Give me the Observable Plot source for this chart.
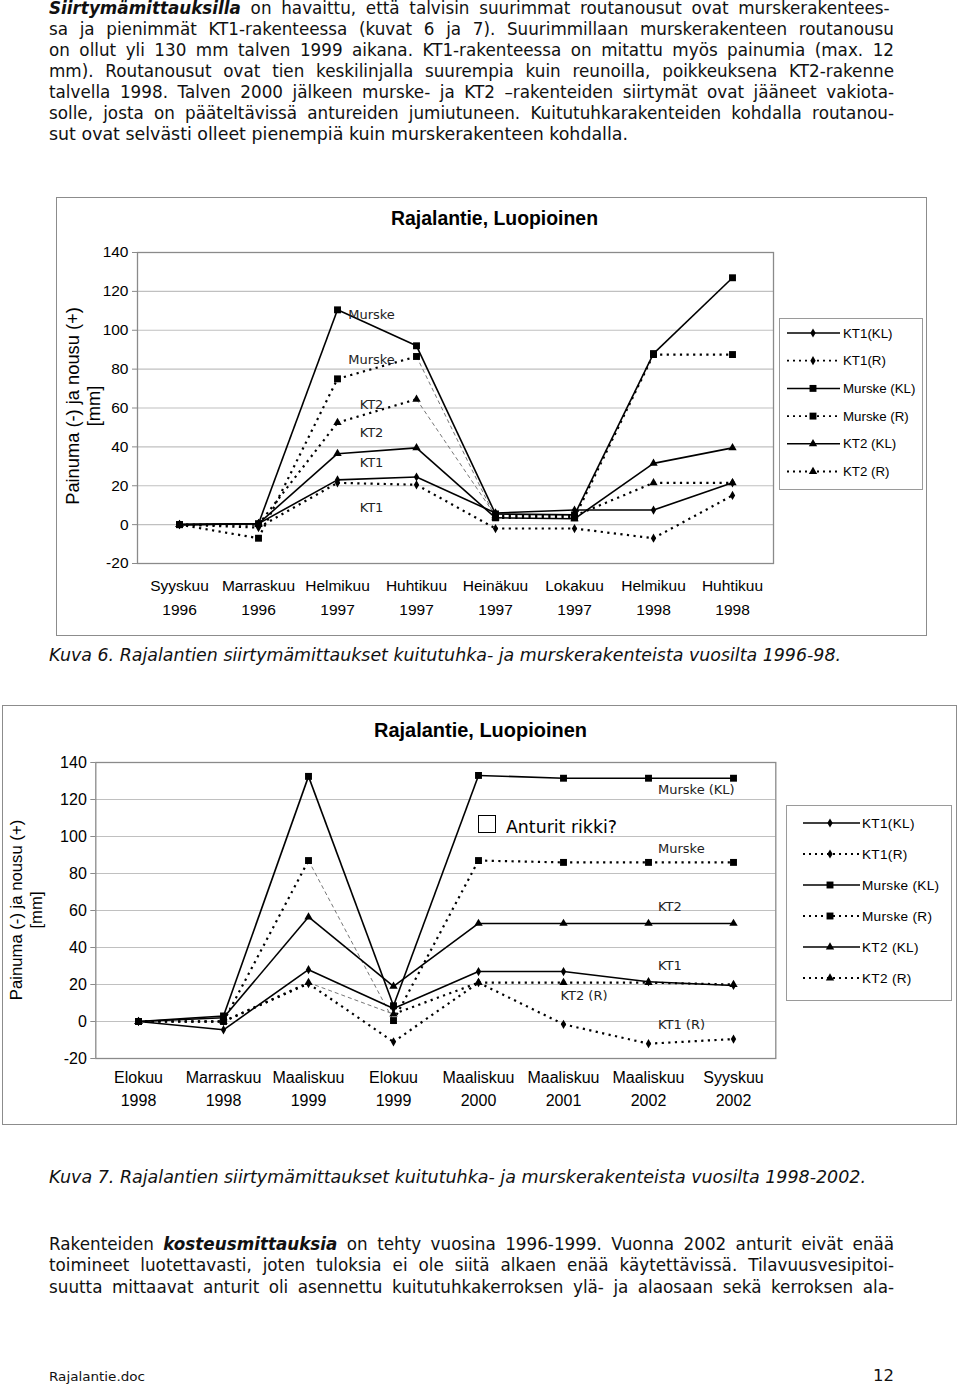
<!DOCTYPE html>
<html><head><meta charset="utf-8">
<script src="https://cdn.jsdelivr.net/npm/d3@7"></script>
<script src="https://cdn.jsdelivr.net/npm/@observablehq/plot@0.6"></script>
<style>
html,body{margin:0;padding:0;background:#fff;}
body{position:relative;width:960px;height:1385px;overflow:hidden;}
.frame{position:absolute;border:1.5px solid #8c8c8c;box-sizing:border-box;background:#fff;}
.abs{position:absolute;}
</style></head><body>
<script>
// ---------------- DATA ----------------
const seriesNames = ["KT1(KL)", "KT1(R)", "Murske (KL)", "Murske (R)", "KT2 (KL)", "KT2 (R)"];
const seriesSymbols = ["diamond", "diamond", "square", "square", "triangle", "triangle"];
const seriesDotted = [false, true, false, true, false, true];
const yTicks = [-20, 0, 20, 40, 60, 80, 100, 120, 140];

// Kuva 6 (1996-98)
const months1 = ["Syyskuu", "Marraskuu", "Helmikuu", "Huhtikuu", "Heinäkuu", "Lokakuu", "Helmikuu", "Huhtikuu"];
const years1 = ["1996", "1996", "1997", "1997", "1997", "1997", "1998", "1998"];
const kt1KL1 = [0, 0.5, 23, 24.5, 6, 7.5, 7.5, 21.5];
const kt1R1 = [0, -1.5, 21.5, 20.5, -2, -2, -7, 15];
const murKL1 = [0, 0.5, 110.5, 92, 5.5, 5, 88, 127];
const murR1 = [0, -7, 75, 86.5, 3.5, 3.5, 87.5, 87.5];
const kt2KL1 = [0, 0.5, 36.5, 39.5, 3.5, 3, 31.5, 39.5];
const kt2R1 = [0, 0, 52.5, 64.5, 4.5, 4.5, 21.5, 21.5];
const thin1 = [["Murske (R)", 3], ["KT2 (R)", 3]];
const labelText1 = ["Murske", "Murske", "KT2", "KT2", "KT1", "KT1"];
const labelValue1 = [108, 85, 61.5, 47, 31.6, 8.6];
const labelCat1 = 2;

// Kuva 7 (1998-2002)
const months2 = ["Elokuu", "Marraskuu", "Maaliskuu", "Elokuu", "Maaliskuu", "Maaliskuu", "Maaliskuu", "Syyskuu"];
const years2 = ["1998", "1998", "1999", "1999", "2000", "2001", "2002", "2002"];
const kt1KL2 = [0, -4.5, 28, 7, 27, 27, 21.5, 19.5];
const kt1R2 = [0, 0, 20.5, -11, 21, -1.5, -12, -9.5];
const murKL2 = [0, 3, 132.5, 8.5, 133, 131.5, 131.5, 131.5];
const murR2 = [0, 0, 87, 0.5, 87, 86, 86, 86];
const kt2KL2 = [0, 2, 56.5, 19, 53, 53, 53, 53];
const kt2R2 = [0, 0, 21, 4, 21, 21, 21, 20];
const thin2 = [["Murske (R)", 2], ["KT2 (R)", 2]];
const labelText2 = ["Murske (KL)", "Murske", "KT2", "KT1", "KT1 (R)"];
const labelValue2 = [125, 93.5, 61.8, 30.3, -1.6];
const labelCat2 = 6;
const labelText2b = ["KT2 (R)"];
const labelValue2b = [14];
const labelCat2b = 5;

// ---------------- HELPERS ----------------
const page = document.body;
function placeText(html, o) {
  const d = document.createElement("div");
  d.innerHTML = html;
  const fs = o.fs;
  d.style.cssText = `position:absolute;white-space:nowrap;left:${o.x || 0}px;top:${o.baseline - 0.846 * fs}px;font-size:${fs}px;line-height:${fs}px;font-family:${o.family || '"DejaVu Sans", Verdana, sans-serif'};color:${o.color || "#111"};${o.style || ""}`;
  page.appendChild(d);
  if (o.width) {
    const w = d.getBoundingClientRect().width;
    if (o.mode === "justify" && w < o.width) {
      const n = (d.textContent.match(/ /g) || []).length;
      d.style.wordSpacing = ((o.width - w) / n) + "px";
    } else {
      d.style.transformOrigin = "0 0";
      d.style.transform = `scaleX(${o.width / w})`;
    }
  }
  if (o.right !== undefined) {
    const w = d.getBoundingClientRect().width;
    d.style.left = (o.right - w) + "px";
  }
  return d;
}
function placeRot(text, cx, cy, fs) {
  const d = document.createElement("div");
  d.textContent = text;
  d.style.cssText = `position:absolute;white-space:nowrap;left:${cx}px;top:${cy}px;font-size:${fs}px;line-height:${fs * 1.1}px;font-family:"Liberation Sans",Arial,sans-serif;color:#000;transform:translate(-50%,-50%) rotate(-90deg);`;
  page.appendChild(d);
}
function frameBox(l, t, w, h) {
  const d = document.createElement("div");
  d.className = "frame";
  d.style.left = l + "px"; d.style.top = t + "px"; d.style.width = w + "px"; d.style.height = h + "px";
  page.appendChild(d);
}
const symbolMap = {diamond: d3.symbolDiamond, square: d3.symbolSquare, triangle: d3.symbolTriangle};
const symbolR = {diamond: 2.8, square: 3.9, triangle: 3.1};

function makeChart(c) {
  const cats = c.months.map((m, i) => m + " " + c.years[i]);
  const pts = [], segs = [];
  seriesNames.forEach((s, si) => {
    const vals = c.values[si];
    vals.forEach((v, i) => pts.push({s, si, x: cats[i], y: v}));
    for (let i = 0; i < vals.length - 1; i++) {
      segs.push({s, si, x1: cats[i], y1: vals[i], x2: cats[i + 1], y2: vals[i + 1],
        thin: c.thin.some(([n, k]) => n === s && k === i), dotted: seriesDotted[si]});
    }
  });
  const catLabels = cats.map((cc, i) => ({c: cc, m: c.months[i], yr: c.years[i]}));
  const L = {x1: "x1", y1: "y1", x2: "x2", y2: "y2"};
  const dots = ["diamond", "square", "triangle"].map(sym =>
    Plot.dot(pts.filter(d => seriesSymbols[d.si] === sym), {x: "x", y: "y", symbol: sym, fill: "#000", r: symbolR[sym]}));
  const labelMarks = c.labels.map(lb => Plot.text(
    lb.text.map((t, i) => ({t, v: lb.value[i], x: cats[lb.cat]})),
    {x: "x", y: "v", text: "t", dx: lb.dx, textAnchor: lb.anchor, fontFamily: '"DejaVu Sans", Verdana, sans-serif', fontSize: 13, fill: "#222"}));
  const svg = Plot.plot({
    width: c.width, height: c.height,
    marginLeft: c.ml, marginRight: c.mr, marginTop: c.mt, marginBottom: c.mb,
    style: {fontFamily: '"Liberation Sans", Arial, sans-serif', fontSize: c.tickFont + "px", color: "#000", background: "transparent", overflow: "visible"},
    x: {type: "point", domain: cats, padding: 0.5, axis: null},
    y: {domain: [-20, 140], axis: null},
    marks: [
      Plot.ruleY(yTicks.filter(t => t > -20 && t < 140), {stroke: "#c0c0c0", strokeWidth: 1.2}),
      Plot.frame({stroke: "#8a8a8a", strokeWidth: 1.3}),
      Plot.axisY({ticks: yTicks, tickSize: 5, tickPadding: 4, stroke: "#8a8a8a", fontSize: c.tickFont, tickFormat: d => String(d), label: null}),
      Plot.text(catLabels, {x: "c", text: "m", frameAnchor: "bottom", dy: c.dy1, fontSize: c.xFont}),
      Plot.text(catLabels, {x: "c", text: "yr", frameAnchor: "bottom", dy: c.dy2, fontSize: c.xFont}),
      Plot.link(segs.filter(d => d.thin), {...L, stroke: "#666", strokeWidth: 0.9, strokeDasharray: "4,3"}),
      Plot.link(segs.filter(d => !d.thin && d.dotted), {...L, stroke: "#000", strokeWidth: 2.2, strokeDasharray: "2.2,4.4"}),
      Plot.link(segs.filter(d => !d.thin && !d.dotted), {...L, stroke: "#000", strokeWidth: 1.6}),
      ...dots,
      ...labelMarks
    ]
  });
  svg.style.position = "absolute";
  svg.style.left = c.left + "px";
  svg.style.top = c.top + "px";
  page.appendChild(svg);
}

function makeLegend(o) {
  const svg = d3.create("svg").attr("width", o.w).attr("height", o.h)
    .style("position", "absolute").style("left", o.left + "px").style("top", o.top + "px");
  svg.append("rect").attr("x", 0.5).attr("y", 0.5).attr("width", o.w - 1).attr("height", o.h - 1)
    .attr("fill", "#fff").attr("stroke", "#9a9a9a").attr("stroke-width", 1);
  seriesNames.forEach((s, i) => {
    const y = o.y0 + o.dy * i;
    const g = svg.append("g");
    g.append("line").attr("x1", o.l0).attr("x2", o.l1).attr("y1", y).attr("y2", y)
      .attr("stroke", "#000").attr("stroke-width", seriesDotted[i] ? 1.8 : 1.5)
      .attr("stroke-dasharray", seriesDotted[i] ? "2,4" : null);
    const sym = seriesSymbols[i];
    g.append("path").attr("d", d3.symbol(symbolMap[sym], Math.PI * symbolR[sym] ** 2)())
      .attr("transform", `translate(${o.mx},${y})`).attr("fill", "#000");
    g.append("text").attr("x", o.tx).attr("y", y).attr("dy", "0.35em").text(s)
      .attr("font-family", '"Liberation Sans", Arial, sans-serif').attr("font-size", o.fs)
      .attr("letter-spacing", o.ls || 0);
  });
  page.appendChild(svg.node());
}

// ---------------- BODY TEXT ----------------
const bodyFs = 16.8;
const para1 = [
  "<b><i>Siirtymämittauksilla</i></b>  on havaittu, että talvisin suurimmat routanousut ovat murskerakentees-",
  "sa ja pienimmät KT1-rakenteessa (kuvat 6 ja 7). Suurimmillaan murskerakenteen routanousu",
  "on ollut yli 130 mm talven 1999 aikana. KT1-rakenteessa on mitattu myös painumia (max. 12",
  "mm). Routanousut ovat tien keskilinjalla suurempia kuin reunoilla, poikkeuksena KT2-rakenne",
  "talvella 1998. Talven 2000 jälkeen murske- ja KT2 –rakenteiden siirtymät ovat jääneet vakiota-",
  "solle, josta on pääteltävissä antureiden jumiutuneen. Kuitutuhkarakenteiden kohdalla routanou-",
  "sut ovat selvästi olleet pienempiä kuin murskerakenteen kohdalla."
];
para1.forEach((h, i) => {
  const last = i === para1.length - 1;
  placeText(h, {x: 49, baseline: 14.5 + 21.0 * i, fs: bodyFs, width: last ? 579 : 845, mode: last ? "scale" : "justify"});
});
const para2 = [
  "Rakenteiden <b><i>kosteusmittauksia</i></b> on tehty vuosina 1996-1999. Vuonna 2002 anturit eivät enää",
  "toimineet luotettavasti, joten tuloksia ei ole siitä alkaen enää käytettävissä. Tilavuusvesipitoi-",
  "suutta mittaavat anturit oli asennettu kuitutuhkakerroksen ylä- ja alaosaan sekä kerroksen ala-"
];
para2.forEach((h, i) => placeText(h, {x: 49, baseline: 1250 + 21.7 * i, fs: bodyFs, width: 845, mode: "justify"}));

// ---------------- CHART 1 ----------------
frameBox(56, 197, 871, 439);
placeText("Rajalantie, Luopioinen", {x: 390.5, baseline: 224.5, fs: 20, family: '"Liberation Sans", Arial, sans-serif', style: "font-weight:bold;", color: "#000", width: 207});
placeRot("Painuma (-) ja nousu (+)", 73, 406, 18.3);
placeRot("[mm]", 94, 406, 18.3);
makeChart({
  months: months1, years: years1,
  values: [kt1KL1, kt1R1, murKL1, murR1, kt2KL1, kt2R1],
  thin: thin1,
  labels: [{text: labelText1, value: labelValue1, cat: labelCat1, dx: 34, anchor: "middle"}],
  left: 60, top: 240, width: 721, height: 393, ml: 77, mr: 8, mt: 12, mb: 70,
  tickFont: 15.5, xFont: 15.5, dy1: 27, dy2: 51
});
makeLegend({left: 779, top: 318, w: 144, h: 172, y0: 15, dy: 27.7, l0: 8, l1: 61, mx: 34, tx: 64, fs: 13.3});
placeText("<i>Kuva 6. Rajalantien siirtymämittaukset kuitutuhka- ja murskerakenteista vuosilta 1996-98.</i>", {x: 49, baseline: 661, fs: bodyFs, width: 792});

// ---------------- CHART 2 ----------------
frameBox(2, 705, 955, 420);
placeText("Rajalantie, Luopioinen", {x: 374, baseline: 736.5, fs: 20, family: '"Liberation Sans", Arial, sans-serif', style: "font-weight:bold;", color: "#000", width: 213});
placeRot("Painuma (-) ja nousu (+)", 17, 910, 16.7);
placeRot("[mm]", 37, 910, 16.7);
makeChart({
  months: months2, years: years2,
  values: [kt1KL2, kt1R2, murKL2, murR2, kt2KL2, kt2R2],
  thin: thin2,
  labels: [
    {text: labelText2, value: labelValue2, cat: labelCat2, dx: 9.5, anchor: "start"},
    {text: labelText2b, value: labelValue2b, cat: labelCat2b, dx: -3, anchor: "start"}
  ],
  left: 10, top: 750, width: 770, height: 378, ml: 85.3, mr: 4.7, mt: 12, mb: 70,
  tickFont: 16, xFont: 16, dy1: 24, dy2: 47
});
makeLegend({left: 786, top: 805, w: 166, h: 196, y0: 18, dy: 31, l0: 17, l1: 74, mx: 44, tx: 76, fs: 13.6, ls: 0.3});
// annotation box "Anturit rikki?"
(() => {
  const b = document.createElement("div");
  b.style.cssText = "position:absolute;left:478px;top:815px;width:18px;height:18px;border:1.5px solid #000;box-sizing:border-box;background:#fff;";
  page.appendChild(b);
  placeText("Anturit rikki?", {x: 506, baseline: 833, fs: 17, color: "#000", width: 111});
})();
placeText("<i>Kuva 7. Rajalantien siirtymämittaukset kuitutuhka- ja murskerakenteista vuosilta 1998-2002.</i>", {x: 49, baseline: 1183, fs: bodyFs, width: 817});

// ---------------- FOOTER ----------------
placeText("Rajalantie.doc", {x: 49, baseline: 1382, fs: 12.5, width: 96});
placeText("12", {baseline: 1382, fs: 16.5, right: 894});
</script>
</body></html>
